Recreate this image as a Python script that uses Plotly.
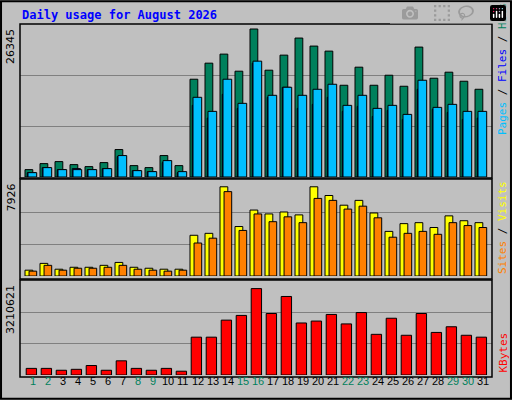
import plotly.graph_objects as go

days = list(range(1, 32))
weekend = [1, 2, 8, 9, 15, 16, 22, 23, 29, 30]

hits = [1311, 2384, 2742, 2205, 1848, 2563, 4887, 2026, 1669, 3814, 2026,
        17403, 20264, 21873, 18834, 26345, 19012, 21694, 24734, 23304, 22410,
        16330, 19549, 16330, 18118, 16152, 23125, 17582, 18655, 17046, 15615]
files = [775, 1669, 1311, 1490, 1311, 1490, 3636, 1132, 954, 2563, 775,
         12754, 10490, 14721, 12218, 20264, 14185, 15973, 12218, 12933, 14185,
         11682, 12576, 10788, 11860, 10251, 15615, 12039, 11503, 10251, 10490]
pages = [775, 1669, 1311, 1311, 1311, 1490, 3814, 1132, 954, 2920, 954,
         14185, 11682, 17403, 13112, 20622, 14542, 15973, 14542, 15615, 16509,
         12754, 14542, 12218, 12754, 11145, 17224, 12397, 12933, 11682, 11682]
visits = [517, 1120, 603, 775, 775, 948, 1206, 775, 689, 603, 603,
          3619, 3791, 7926, 4394, 5859, 5514, 5687, 5428, 7926, 7151,
          6290, 6720, 5600, 3963, 4653, 4739, 4308, 5342, 4911, 4739]
sites = [431, 948, 517, 689, 689, 775, 948, 603, 517, 431, 517,
         2929, 3360, 7496, 4049, 5514, 4825, 5256, 4739, 6893, 6720,
         5945, 6204, 5170, 3446, 3791, 3963, 3705, 4739, 4480, 4308]
kbytes = [246000, 246000, 176000, 211000, 352000, 176000, 527000, 246000, 176000, 246000, 141000,
          1406000, 1406000, 2039000, 2214000, 3210621, 2285000, 2918000, 1933000, 2004000, 2250000,
          1898000, 2320000, 1511000, 2109000, 1476000, 2285000, 1582000, 1793000, 1476000, 1406000]


def py(p):
    # pixel row -> paper fraction
    return 1 - p / 400


def bar(y, color, offset, width, ax):
    return go.Bar(x=days, y=y, marker=dict(color=color, line=dict(color="black", width=1)),
                  offset=offset, width=width, xaxis="x" + ax, yaxis="y" + ax,
                  showlegend=False, hoverinfo="y")


fig = go.Figure()
fig.add_trace(bar(hits, "#00805C", -0.5, 0.52, ""))
fig.add_trace(bar(files, "#0000FF", -0.35, 0.55, ""))
fig.add_trace(bar(pages, "#00BFFF", -0.3, 0.58, ""))
fig.add_trace(bar(visits, "#FFFF00", -0.5, 0.52, "2"))
fig.add_trace(bar(sites, "#FF8000", -0.23, 0.51, "2"))
fig.add_trace(bar(kbytes, "#FF0000", -0.42, 0.69, "3"))

xr = [1 / 6, 1 / 6 + 472 / 15]
xd = [20 / 512, 492 / 512]
ranges = [max(hits) * 153 / 148, max(visits) * 99 / 92, max(kbytes) * 99 / 91]
domains = [[py(177), py(24)], [py(276), py(180)], [py(375), py(281)]]

lay = dict(width=512, height=400, margin=dict(l=0, r=0, t=0, b=0),
           paper_bgcolor="#C0C0C0", plot_bgcolor="#C0C0C0", barmode="overlay",
           font=dict(family="DejaVu Sans Mono", size=11, color="black"))
for i, suf in enumerate(["", "2", "3"]):
    r = ranges[i]
    lay["xaxis" + suf] = dict(range=xr, domain=xd, anchor="y" + suf, showgrid=False,
                              zeroline=False, showticklabels=False, ticks="",
                              showline=False, fixedrange=True)
    lay["yaxis" + suf] = dict(range=[0, r], domain=domains[i], anchor="x" + suf,
                              tickvals=[r / 3, 2 * r / 3], showticklabels=False,
                              gridcolor="#808080", gridwidth=1, zeroline=False,
                              showline=False, fixedrange=True)
fig.update_layout(**lay)

# panel frames
shapes = [dict(type="rect", xref="paper", yref="paper", x0=0.002, x1=0.998, y0=0.003, y1=0.997,
               line=dict(color="black", width=2))]
for y0, y1 in [(178, 24), (279, 179), (377, 280)]:
    shapes.append(dict(type="rect", xref="paper", yref="paper", x0=xd[0], x1=xd[1],
                       y0=py(y0), y1=py(y1), line=dict(color="black", width=1.5)))
fig.update_layout(shapes=shapes)

ann = [dict(text="<b>Daily usage for August 2026</b>", x=20 / 512, y=py(15), xref="paper",
            yref="paper", xanchor="left", yanchor="middle", showarrow=False,
            font=dict(color="#0000FF", size=12))]
for val, top in [("26345", 27), ("7926", 181), ("3210621", 283)]:
    ann.append(dict(text=val, x=19 / 512, y=py(top), xref="paper", yref="paper",
                    xanchor="right", yanchor="top", textangle=-90, showarrow=False,
                    font=dict(family="DejaVu Sans", size=11)))
for parts, bottom in [([("Pages", "#00BFFF"), (" / ", "black"), ("Files", "#0000FF"),
                        (" / ", "black"), ("Hits", "#00805C")], 137),
                      ([("Sites", "#FF8000"), (" / ", "black"), ("Visits", "#FFFF00")], 276),
                      ([("KBytes", "#FF0000")], 375)]:
    txt = "".join(f"<span style='color:{c}'>{t}</span>" for t, c in parts)
    ann.append(dict(text=txt, x=494 / 512, y=py(bottom), xref="paper", yref="paper",
                    xanchor="left", yanchor="bottom", textangle=-90, showarrow=False,
                    font=dict(size=11)))
for d in days:
    ann.append(dict(text=str(d), x=d, y=py(389), xref="x3", yref="paper", showarrow=False,
                    font=dict(family="Liberation Sans", size=11,
                              color="#00805C" if d in weekend else "black")))
fig.update_layout(annotations=ann)

fig.write_html("out.html", post_script="document.body.style.margin='0px';")
